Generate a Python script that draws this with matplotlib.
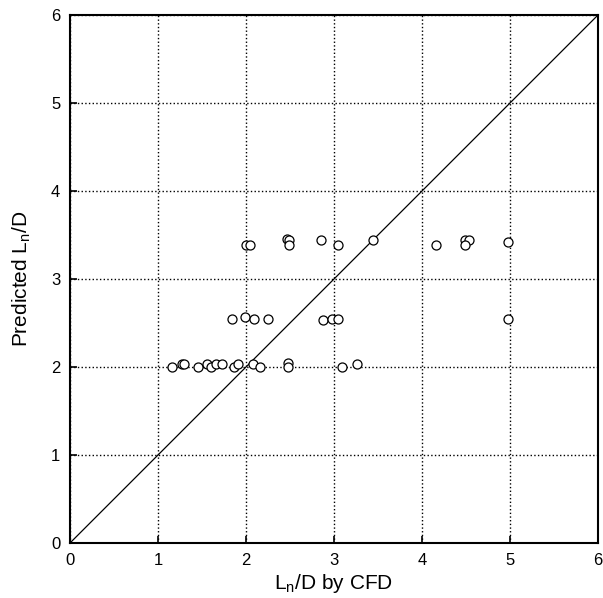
import matplotlib
matplotlib.use("Agg")
import matplotlib.pyplot as plt

# CFD values (x) and predicted values (y)
cfd = [1.16, 1.27, 1.29, 1.46, 1.56, 1.60, 1.66, 1.73, 1.86, 1.91, 2.08, 2.16,
       2.48, 2.48, 3.09, 3.26,
       1.84, 1.99, 2.09, 2.25, 2.87, 2.98, 3.04, 4.98,
       2.00, 2.05, 2.47, 2.49, 2.49, 2.85, 3.04, 3.44, 4.16, 4.49, 4.53, 4.49, 4.98]
pred = [2.00, 2.03, 2.03, 2.00, 2.03, 2.00, 2.03, 2.03, 2.00, 2.03, 2.03, 2.00,
        2.04, 2.00, 2.00, 2.03,
        2.55, 2.57, 2.55, 2.55, 2.53, 2.55, 2.55, 2.55,
        3.39, 3.39, 3.45, 3.44, 3.39, 3.44, 3.39, 3.44, 3.39, 3.44, 3.44, 3.39, 3.42]
ticks = [0, 1, 2, 3, 4, 5, 6]

plt.rcParams['font.family'] = ['Liberation Sans', 'DejaVu Sans']

fig = plt.figure(figsize=(6.03, 5.98), dpi=100)
ax = fig.add_axes([70/603, 55/598, 528/603, 528/598])

ax.plot([0, 6], [0, 6], color='black', linewidth=0.9)
ax.plot(cfd, pred, linestyle='none', marker='o', markersize=6.5,
        markerfacecolor='white', markeredgecolor='black', markeredgewidth=0.9)

ax.set_xlim(0, 6)
ax.set_ylim(0, 6)
ax.set_xticks(ticks)
ax.set_yticks(ticks)
ax.grid(True, linestyle=':', color='black', linewidth=1)
ax.set_axisbelow(True)
ax.tick_params(direction='in', length=5, width=1.2, labelsize=12, pad=7,
               top=False, right=False)
for s in ax.spines.values():
    s.set_linewidth(1.5)

ax.set_xlabel('L$_\\mathregular{n}$/D by CFD', fontsize=15, labelpad=3)
ax.set_ylabel('Predicted L$_\\mathregular{n}$/D', fontsize=15, labelpad=13)

fig.savefig('out.png', dpi=100)
